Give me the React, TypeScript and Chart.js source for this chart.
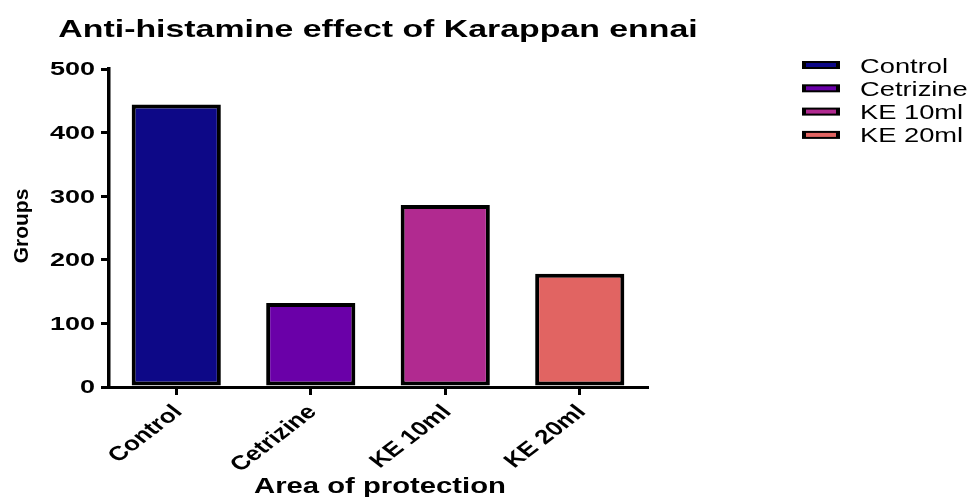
import React, { useEffect, useRef } from "react";
import { Chart, registerables } from "chart.js";

Chart.register(...registerables);

const categories = ["Control", "Cetrizine", "KE 10ml", "KE 20ml"];
const values = [444, 132, 286, 178];
const barColors = ["#0d0887", "#6a00a8", "#b12a90", "#e16462"];
const yTicks = [0, 100, 200, 300, 400, 500];
const titleText = "Anti-histamine effect of Karappan ennai";
const xTitle = "Area of protection";
const yTitle = "Groups";

const FONT = '"Liberation Sans", Arial, Helvetica, sans-serif';

function drawText(
  ctx: CanvasRenderingContext2D,
  text: string,
  x: number,
  y: number,
  font: string,
  sx: number,
  align: CanvasTextAlign,
  baseline: CanvasTextBaseline,
  rot = 0
) {
  ctx.save();
  ctx.translate(x, y);
  ctx.scale(sx, 1);
  if (rot) ctx.rotate(rot);
  ctx.font = font;
  ctx.fillStyle = "#000";
  ctx.textAlign = align;
  ctx.textBaseline = baseline;
  ctx.fillText(text, 0, 0);
  ctx.restore();
}

const textPlugin = {
  id: "textPlugin",
  afterDraw(chart: any) {
    const ctx: CanvasRenderingContext2D = chart.ctx;
    const area = chart.chartArea;
    const xs = chart.scales.x;
    const ys = chart.scales.y;
    const cx = (area.left + area.right) / 2;

    // title
    drawText(ctx, titleText, cx, 37, `bold 24px ${FONT}`, 1.41, "center", "alphabetic");

    // y tick labels
    yTicks.forEach((v) => {
      const py = ys.getPixelForValue(v);
      drawText(ctx, String(v), 95, py + 6.3, `bold 18px ${FONT}`, 1.5, "right", "alphabetic");
    });

    // x tick labels
    categories.forEach((c, i) => {
      const px = xs.getPixelForValue(i);
      drawText(ctx, c, px + 2, area.bottom + 22, `bold 20px ${FONT}`, 1.3, "right", "middle", -Math.PI / 4);
    });

    // x title
    drawText(ctx, xTitle, cx + 2, 493, `bold 22px ${FONT}`, 1.33, "center", "alphabetic");

    // y title
    ctx.save();
    ctx.translate(22, (area.top + area.bottom) / 2 - 2);
    ctx.rotate(-Math.PI / 2);
    ctx.font = `bold 21px ${FONT}`;
    ctx.fillStyle = "#000";
    ctx.textAlign = "center";
    ctx.textBaseline = "middle";
    ctx.fillText(yTitle, 0, 0);
    ctx.restore();

    // legend
    categories.forEach((c, i) => {
      const cy = 65 + i * 23.3;
      ctx.save();
      ctx.fillStyle = "#000";
      ctx.fillRect(802, cy - 4, 38, 8);
      ctx.fillStyle = barColors[i];
      ctx.fillRect(806, cy - 2, 30, 4);
      ctx.restore();
      drawText(ctx, c, 860, cy + 7.5, `21px ${FONT}`, 1.3, "left", "alphabetic");
    });
  },
};

export default function App() {
  const ref = useRef<HTMLCanvasElement>(null);

  useEffect(() => {
    const canvas = ref.current;
    if (!canvas) return;
    const chart = new Chart(canvas, {
      type: "bar",
      data: {
        labels: categories,
        datasets: [
          {
            data: values,
            backgroundColor: barColors,
            borderColor: "#000",
            borderWidth: 4,
            borderSkipped: false,
            barPercentage: 0.663,
            categoryPercentage: 1,
          },
        ],
      },
      options: {
        responsive: false,
        animation: false,
        devicePixelRatio: 1,
        layout: { padding: { left: 0, right: 329, top: 69, bottom: 0 } },
        plugins: {
          legend: { display: false },
          title: { display: false },
          tooltip: { enabled: false },
        },
        scales: {
          x: {
            offset: true,
            ticks: { display: false },
            grid: {
              offset: false,
              drawOnChartArea: false,
              drawTicks: true,
              tickLength: 8,
              color: "#000",
              lineWidth: 3,
            },
            border: { display: true, color: "#000", width: 3 },
            afterFit: (s: any) => {
              s.height = 110;
            },
          },
          y: {
            min: 0,
            max: 500,
            ticks: { display: false, stepSize: 100 },
            grid: {
              drawOnChartArea: false,
              drawTicks: true,
              tickLength: 8,
              color: "#000",
              lineWidth: 3,
            },
            border: { display: true, color: "#000", width: 3.5 },
            afterFit: (s: any) => {
              s.width = 109;
            },
          },
        },
      },
      plugins: [textPlugin],
    });
    return () => chart.destroy();
  }, []);

  return (
    <div style={{ position: "fixed", left: 0, top: 0, width: 976, height: 497, background: "#fff" }}>
      <canvas ref={ref} width={976} height={497} style={{ display: "block", width: 976, height: 497 }} />
    </div>
  );
}
